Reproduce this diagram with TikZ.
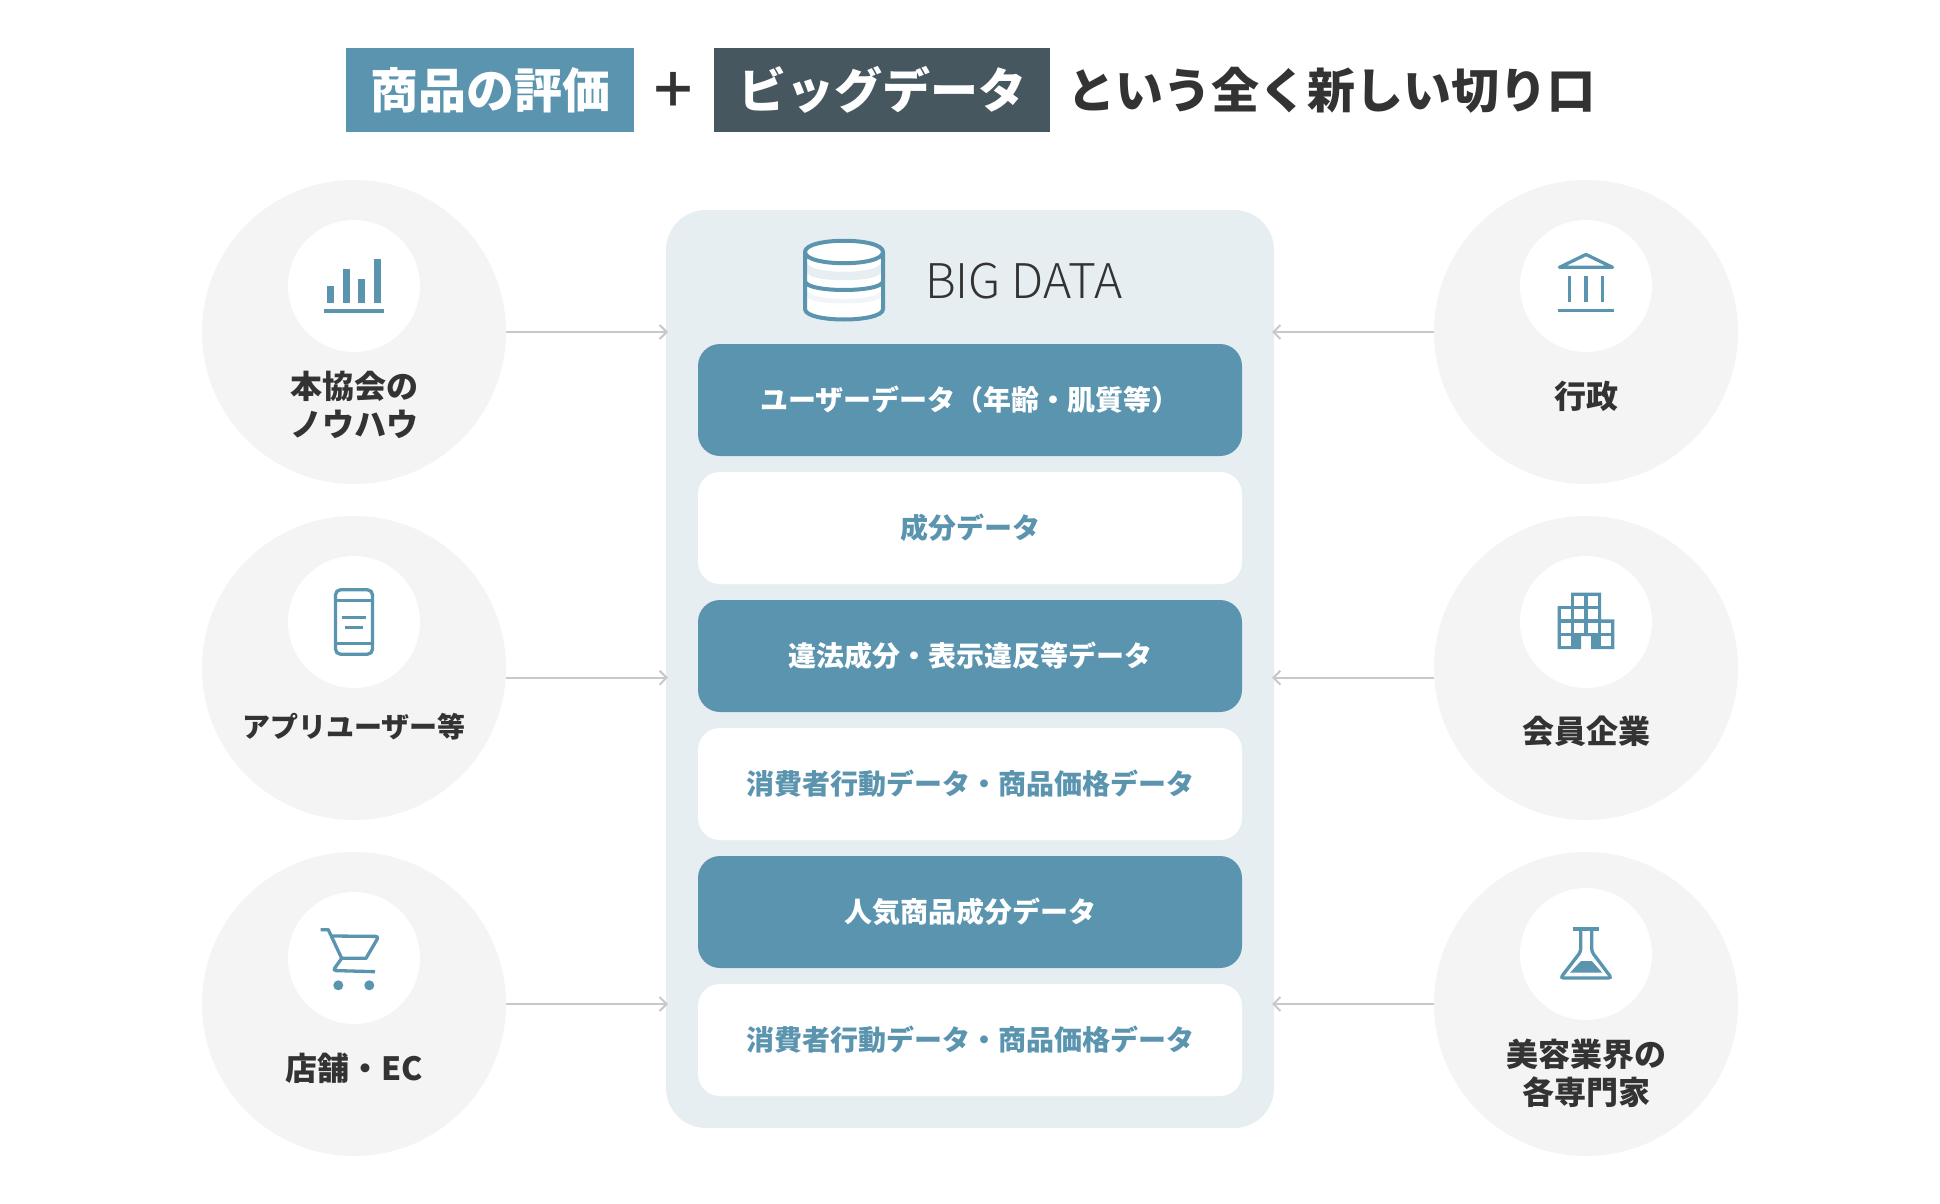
\documentclass[tikz,border=0pt]{standalone}
\usepackage{fontspec}
\setmainfont{Noto Sans CJK JP}
\newfontfamily\thinfont{Noto Sans CJK JP Light}
\definecolor{kaoBlue}{HTML}{5A94AF}
\definecolor{kaoDark}{HTML}{465760}
\definecolor{kaoPanel}{HTML}{E7EEF2}
\definecolor{kaoCircle}{HTML}{F4F4F4}
\definecolor{kaoText}{HTML}{333333}
\definecolor{kaoArrow}{HTML}{C8C8C8}
\usetikzlibrary{positioning, arrows.meta}

\begin{document}
\begin{tikzpicture}[
    x=1pt, y=-1pt,
    headbox/.style={rectangle, minimum height=84pt, inner sep=0pt, outer sep=0pt,
                    text=white, font=\bfseries\fontsize{48}{52}\selectfont},
    headtext/.style={inner sep=0pt, text=kaoText, font=\bfseries\fontsize{48}{52}\selectfont},
    source/.style={circle, fill=kaoCircle, minimum size=304pt, inner sep=0pt, outer sep=0pt},
    iconbg/.style={circle, fill=white, minimum size=132pt, inner sep=0pt, outer sep=0pt},
    srclabel/.style={align=center, inner sep=0pt, text=kaoText,
                     font=\bfseries\fontsize{32}{38}\selectfont},
    panel/.style={rectangle, fill=kaoPanel, minimum width=608pt, minimum height=918pt,
                  rounded corners=40pt, inner sep=0pt, outer sep=0pt},
    databox/.style={rectangle, minimum width=544pt, minimum height=112pt, rounded corners=22pt,
                    inner sep=0pt, outer sep=0pt, font=\bfseries\fontsize{28}{32}\selectfont},
    bluebox/.style={databox, fill=kaoBlue, text=white},
    whitebox/.style={databox, fill=white, text=kaoBlue},
    arrow/.style={-{Straight Barb[length=7pt,width=14pt,line width=2pt]}, draw=kaoArrow,
                  line width=2pt, shorten >=-2pt},
    iconline/.style={draw=kaoBlue, line width=3.3pt},
    iconfill/.style={fill=kaoBlue},
  ]
    \useasboundingbox (0,0) rectangle (1940,1204);

    \node[headbox, fill=kaoBlue, minimum width=288pt] (HEADA) at (490,90) {商品の評価};
    \node[headtext] (PLUS) at (673.5,90) {＋};
    \node[headbox, fill=kaoDark, minimum width=336pt] (HEADB) at (882,90) {ビッグデータ};
    \node[headtext, anchor=west] (HEADC) at (1067,90) {という全く新しい切り口};

    \node[panel] (PANEL) at (970,669) {};
    \node[text=kaoText, inner sep=0pt, font=\thinfont\fontsize{47.8}{52}\selectfont] (BIG) at (1024,281) {BIG DATA};

    \node[bluebox] (USER) at (970,400) {ユーザーデータ（年齢・肌質等）};
    \node[whitebox, below=16pt of USER] (INGR) {成分データ};
    \node[bluebox, below=16pt of INGR] (ILLEGAL) {違法成分・表示違反等データ};
    \node[whitebox, below=16pt of ILLEGAL] (ACTA) {消費者行動データ・商品価格データ};
    \node[bluebox, below=16pt of ACTA] (POPULAR) {人気商品成分データ};
    \node[whitebox, below=16pt of POPULAR] (ACTB) {消費者行動データ・商品価格データ};

    \node[source] (KNOW) at (354,332) {};
    \node[source] (APP) at (354,668) {};
    \node[source] (SHOP) at (354,1004) {};
    \node[source] (GOV) at (1586,332) {};
    \node[source] (FIRM) at (1586,668) {};
    \node[source] (BEAUTY) at (1586,1004) {};

    \foreach \nm/\cx/\cy in {KNOWI/354/286, APPI/354/622, SHOPI/354/958,
                             GOVI/1586/286, FIRMI/1586/622, BEAUTYI/1586/954}
      \node[iconbg] (\nm) at (\cx,\cy) {};

    \node[srclabel] (KNOWL) at (354,405) {本協会の\\ノウハウ};
    \node[srclabel, font=\bfseries\fontsize{28}{32}\selectfont] (APPL) at (354,726.5) {アプリユーザー等};
    \node[srclabel] (SHOPL) at (354,1068) {店舗・EC};
    \node[srclabel] (GOVL) at (1586,396) {行政};
    \node[srclabel] (FIRML) at (1586,731.5) {会員企業};
    \node[srclabel] (BEAUTYL) at (1586,1073.5) {美容業界の\\各専門家};

    \coordinate (APPOUT) at ([yshift=-9.7pt]APP.east);
    \coordinate (FIRMOUT) at ([yshift=-9.7pt]FIRM.west);
    \draw[arrow] (KNOW.east) -- (KNOW.east -| PANEL.west);
    \draw[arrow] (APPOUT) -- (APPOUT -| PANEL.west);
    \draw[arrow] (SHOP.east) -- (SHOP.east -| PANEL.west);
    \draw[arrow] (GOV.west) -- (GOV.west -| PANEL.east);
    \draw[arrow] (FIRMOUT) -- (FIRMOUT -| PANEL.east);
    \draw[arrow] (BEAUTY.west) -- (BEAUTY.west -| PANEL.east);

    \fill[white] (805,252) -- (805,309) .. controls (805,323) and (883,323) .. (883,309)
         -- (883,252) .. controls (883,237) and (805,237) .. (805,252) -- cycle;
    \fill[kaoPanel] (807,262) .. controls (807,275) and (881,275) .. (881,262) -- (881,272)
         .. controls (881,283) and (807,283) .. (807,272) -- cycle;
    \fill[kaoPanel!60!white] (807,290) .. controls (807,302) and (881,302) .. (881,290) -- (881,296)
         .. controls (881,306) and (807,306) .. (807,296) -- cycle;
    \draw[iconline, line width=4pt, line join=round] (805,252) .. controls (805,267) and (883,267) .. (883,252)
         .. controls (883,237) and (805,237) .. (805,252) -- (805,309)
         .. controls (805,323) and (883,323) .. (883,309) -- (883,252);
    \draw[iconline, line width=4pt] (805,281) .. controls (805,293) and (883,293) .. (883,281);

    \foreach \lx/\ty in {327.3/286, 343/269.3, 358.3/279.3, 374/259.3}
      \fill[iconfill] (\lx,\ty) rectangle (\lx+6.7,303);
    \fill[iconfill] (324,309) rectangle (384,312.7);

    \draw[iconline, rounded corners=5pt] (335.5,589.8) rectangle (372.5,654.2);
    \draw[iconline] (335.5,600.7) -- (372.5,600.7) (335.5,643.3) -- (372.5,643.3);
    \draw[iconline, line width=2.6pt] (341.7,617.7) -- (366,617.7) (345,627.7) -- (362.7,627.7);

    \draw[iconline, line join=round] (320.7,929.7) -- (328.3,929.7) -- (341.7,958.3) -- (366,958.3)
         [rounded corners=3pt] -- (378.8,936.4) -- (331.7,936);
    \draw[iconline, rounded corners=3pt] (341.7,958.3) -- (333,970.5) -- (375,971.7);
    \fill[iconfill] (338.3,985.3) circle (5) (369.3,985.3) circle (5);

    \draw[iconline, line join=round] (1559.5,267.3) -- (1586,254.5) -- (1612.5,267.3) -- cycle;
    \foreach \lx in {1569.3, 1586, 1602.7}
      \draw[iconline] (\lx,275.7) -- (\lx,302.3);
    \draw[iconline] (1557.7,310.7) -- (1614,310.7);

    \fill[iconfill] (1557.7,606) -- (1571,606) -- (1571,592.7) -- (1601,592.7) -- (1601,619.3)
         -- (1614.3,619.3) -- (1614.3,649) -- (1591,649) -- (1591,636) -- (1581,636) -- (1581,649)
         -- (1557.7,649) -- cycle;
    \foreach \wx/\wy in {1574.3/596, 1587.7/596, 1561/609.3, 1574.3/609.3, 1587.7/609.3,
                         1561/622.7, 1574.3/622.7, 1587.7/622.7, 1601/622.7, 1561/636, 1601/636}
      \fill[white] (\wx,\wy) rectangle (\wx+10,\wy+10);

    \draw[iconline] (1573.3,929) -- (1598.7,929);
    \draw[iconline, rounded corners=3pt] (1580.7,929) -- (1580.7,951.7) -- (1560.5,978)
         -- (1611.5,978) -- (1591.7,951.7) -- (1591.7,929);
    \fill[iconfill] (1581,961) -- (1591.7,961) -- (1602.3,972.7) -- (1570,972.7) -- cycle;
\end{tikzpicture}
\end{document}
